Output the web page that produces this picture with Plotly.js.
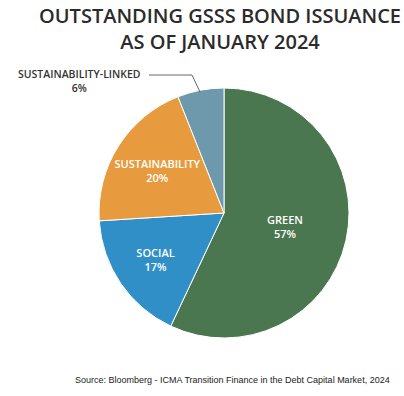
<!DOCTYPE html>
<html><head><meta charset="utf-8">
<script src="https://cdn.plot.ly/plotly-3.0.1.min.js"></script>
<style>html,body{margin:0;padding:0;background:#fff}#chart{width:404px;height:396px}</style>
</head><body><div id="chart"></div>
<script>
const categories = ["GREEN", "SOCIAL", "SUSTAINABILITY", "SUSTAINABILITY-LINKED"];
const shares = [57, 17, 20, 6];
const colors = ["#4a7650", "#2f8fc6", "#e79b3e", "#6e98ab"];
const titleLines = ["OUTSTANDING GSSS BOND ISSUANCE", "AS OF JANUARY 2024"];
const sourceText = "Source: Bloomberg - ICMA Transition Finance in the Debt Capital Market, 2024";

const W = 404, H = 396;
const px = (x) => x / W, py = (y) => 1 - y / H;

const trace = {
  type: "pie",
  values: shares,
  labels: categories,
  sort: false,
  direction: "clockwise",
  rotation: 0,
  marker: { colors: colors, line: { color: "#ffffff", width: 1 } },
  text: categories.map((c, i) => c + "<br>" + shares[i] + "%"),
  texttemplate: categories.map((c, i) => i === 3 ? "" : "%{text}"),
  textinfo: "text",
  textposition: categories.map((c, i) => i === 3 ? "none" : "inside"),
  insidetextorientation: "horizontal",
  insidetextfont: { family: "Open Sans, sans-serif", size: 11, weight: 600, color: "#ffffff" },
  hoverinfo: "none",
  showlegend: false,
  domain: { x: [px(99), px(349)], y: [py(338), py(88)] }
};

const layout = {
  width: W, height: H,
  margin: { l: 0, r: 0, t: 0, b: 0 },
  paper_bgcolor: "#ffffff",
  annotations: [
    {
      text: titleLines.join("<br>"),
      x: px(220), y: py(28), xref: "paper", yref: "paper",
      xanchor: "center", yanchor: "middle", showarrow: false,
      font: { family: "Open Sans, sans-serif", size: 20, weight: 600, color: "#2b2b2b" }
    },
    {
      text: categories[3] + "<br>" + shares[3] + "%",
      x: px(79), y: py(81), xref: "paper", yref: "paper",
      xanchor: "center", yanchor: "middle", showarrow: false,
      font: { family: "Open Sans, sans-serif", size: 10.5, weight: 600, color: "#333333" }
    },
    {
      text: sourceText,
      x: px(233), y: py(380), xref: "paper", yref: "paper",
      xanchor: "center", yanchor: "middle", showarrow: false,
      font: { family: "Liberation Sans, sans-serif", size: 9, color: "#222222" }
    }
  ],
  shapes: [
    {
      type: "path", xref: "paper", yref: "paper",
      path: "M " + px(149) + " " + py(75) + " L " + px(192) + " " + py(75) + " L " + px(200) + " " + py(92),
      line: { color: "#666666", width: 1 }
    }
  ]
};

Plotly.newPlot("chart", [trace], layout, { staticPlot: true, displayModeBar: false });
</script>
</body></html>
